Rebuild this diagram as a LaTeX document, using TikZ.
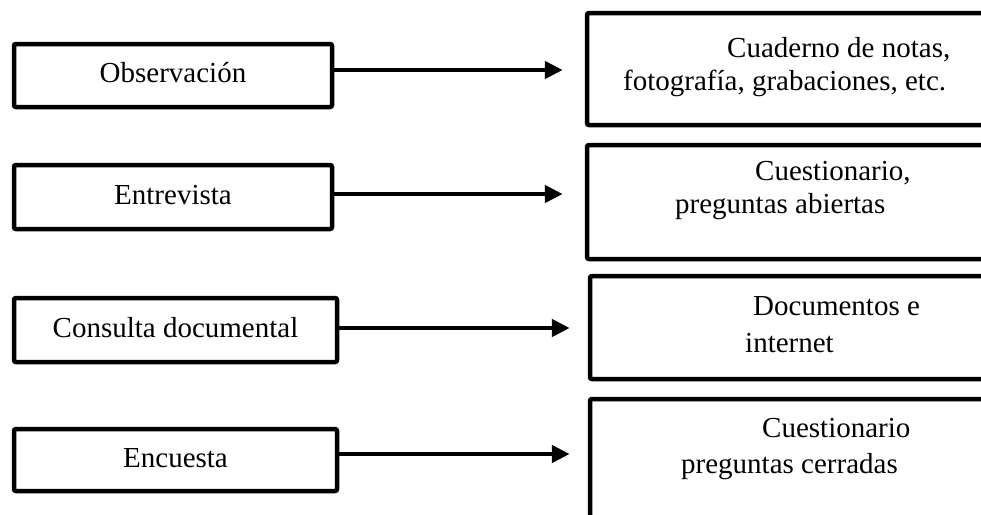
\documentclass[tikz,border=0pt]{standalone}
\usepackage{fontspec}
\setmainfont{Liberation Serif}
\usetikzlibrary{arrows.meta}

\begin{document}
\begin{tikzpicture}
    [ x=1pt, y=-1pt
    , every node/.style={font=\fontsize{29}{34}\selectfont, inner sep=0pt}
    , lbox/.style={draw, line width=4.5pt, rounded corners=2pt, text height=20pt, text depth=6pt}
    , rbox/.style={draw, line width=4.5pt, rounded corners=2pt}
    , rtext/.style={anchor=base west}
    , conn/.style={line width=4.5pt, -{Triangle[length=18pt, width=17pt]}, shorten >=22pt}
    ]
\useasboundingbox (0,0) rectangle (981,514);
\clip (0,0) rectangle (981,514);

% left column
\node[lbox, minimum width=318pt, minimum height=63pt] (obs) at (173,75.5) {Observación};
\node[lbox, minimum width=318pt, minimum height=64pt] (ent) at (173,197) {Entrevista};
\node[lbox, minimum width=323pt, minimum height=64pt] (con) at (175.5,330) {Consulta documental};
\node[lbox, minimum width=323pt, minimum height=62pt] (enc) at (175.5,460) {Encuesta};

% right column (runs off the page)
\node[rbox, minimum width=423pt, minimum height=112pt] (notas) at (798.5,69) {};
\node[rbox, minimum width=423pt, minimum height=114pt] (abiertas) at (798.5,202) {};
\node[rbox, minimum width=420pt, minimum height=103pt] (docs) at (800,327.5) {};
\node[rbox, minimum width=420pt, minimum height=131pt] (cerradas) at (800,464.5) {};

\node[rtext] (notas1) at (727,57) {Cuaderno de notas,};
\node[rtext] (notas2) at (623,90) {fotografía, grabaciones, etc.};
\node[rtext] (abiertas1) at (755,180) {Cuestionario,};
\node[rtext] (abiertas2) at (675,213) {preguntas abiertas};
\node[rtext] (docs1) at (753,315) {Documentos e};
\node[rtext] (docs2) at (745,352) {internet};
\node[rtext] (cerradas1) at (762,437) {Cuestionario};
\node[rtext] (cerradas2) at (681,473) {preguntas cerradas};

% arrows
\draw[conn] ([yshift=5.5pt]obs.east) -- ([yshift=5.5pt]obs.east -| notas.west);
\draw[conn] ([yshift=3pt]ent.east) -- ([yshift=3pt]ent.east -| abiertas.west);
\draw[conn, shorten >=18pt] ([yshift=2pt]con.east) -- ([yshift=2pt]con.east -| docs.west);
\draw[conn, shorten >=18pt] ([yshift=6pt]enc.east) -- ([yshift=6pt]enc.east -| cerradas.west);
\end{tikzpicture}
\end{document}
